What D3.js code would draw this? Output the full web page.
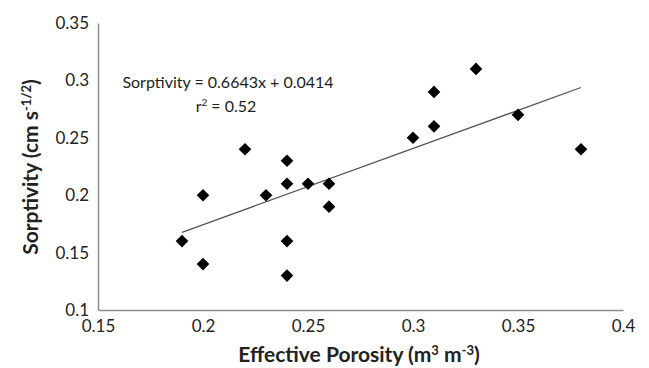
<!DOCTYPE html>
<html>
<head>
<meta charset="utf-8">
<script src="https://cdn.jsdelivr.net/npm/d3@7"></script>
<style>
  body { margin: 0; background: #fff; }
  text { font-family: Lato, "Open Sans", sans-serif; }
</style>
</head>
<body>
<svg id="chart" width="649" height="368"></svg>
<script>
// data
const porosity   = [0.19, 0.20, 0.20, 0.22, 0.23, 0.24, 0.24, 0.24, 0.24, 0.25, 0.26, 0.26, 0.30, 0.31, 0.31, 0.33, 0.35, 0.38];
const sorptivity = [0.16, 0.20, 0.14, 0.24, 0.20, 0.23, 0.21, 0.16, 0.13, 0.21, 0.21, 0.19, 0.25, 0.29, 0.26, 0.31, 0.27, 0.24];
const xTicks = [0.15, 0.2, 0.25, 0.3, 0.35, 0.4];
const yTicks = [0.1, 0.15, 0.2, 0.25, 0.3, 0.35];
const slope = 0.6643, intercept = 0.0414;
const trendX = [0.19, 0.38];

const svg = d3.select('#chart');
const margin = { top: 23, right: 26, bottom: 58, left: 98 };
const width = 649 - margin.left - margin.right;
const height = 368 - margin.top - margin.bottom;

const g = svg.append('g')
    .attr('transform', `translate(${margin.left},${margin.top})`);

const x = d3.scaleLinear().domain([0.15, 0.4]).range([0, width]);
const y = d3.scaleLinear().domain([0.1, 0.35]).range([height, 0]);

// axes
const xAxis = d3.axisBottom(x).tickValues(xTicks).tickSize(0).tickPadding(10)
    .tickFormat(d => d3.format('')(+d.toFixed(2)));
const yAxis = d3.axisLeft(y).tickValues(yTicks).tickSize(0).tickPadding(9)
    .tickFormat(d => d3.format('')(+d.toFixed(2)));

g.append('g')
    .attr('transform', `translate(0,${height})`)
    .call(xAxis)
    .call(s => s.select('.domain').attr('stroke', '#8c8c8c').attr('stroke-width', 1.5))
    .selectAll('text').attr('font-size', 17).attr('fill', '#222');

g.append('g')
    .call(yAxis)
    .call(s => s.select('.domain').attr('stroke', '#8c8c8c').attr('stroke-width', 1.5))
    .selectAll('text').attr('font-size', 17).attr('fill', '#222');

// trend line
const line = d3.line().x(d => x(d)).y(d => y(slope * d + intercept));
g.append('path')
    .datum(trendX)
    .attr('d', line)
    .attr('fill', 'none')
    .attr('stroke', '#555')
    .attr('stroke-width', 1.2);

// points
const diamond = d3.symbol().type(d3.symbolSquare).size(80);
g.selectAll('.pt')
    .data(d3.range(porosity.length))
    .join('path')
    .attr('class', 'pt')
    .attr('d', diamond)
    .attr('transform', i => `translate(${x(porosity[i])},${y(sorptivity[i])}) rotate(45)`)
    .attr('fill', '#000');

// equation
g.append('text')
    .attr('x', 228 - margin.left).attr('y', 88 - margin.top)
    .attr('text-anchor', 'middle')
    .attr('font-size', 16).attr('fill', '#222')
    .text('Sorptivity = 0.6643x + 0.0414');
const r2 = g.append('text')
    .attr('x', 226 - margin.left).attr('y', 112 - margin.top)
    .attr('text-anchor', 'middle')
    .attr('font-size', 16).attr('fill', '#222');
r2.append('tspan').text('r');
r2.append('tspan').attr('dy', -6).attr('font-size', 10).text('2');
r2.append('tspan').attr('dy', 6).text(' = 0.52');

// axis titles
const xt = svg.append('text')
    .attr('x', 359).attr('y', 362)
    .attr('text-anchor', 'middle')
    .attr('font-size', 21).attr('font-weight', 'bold').attr('fill', '#222');
xt.append('tspan').text('Effective Porosity (m');
xt.append('tspan').attr('dy', -7).attr('font-size', 13).text('3');
xt.append('tspan').attr('dy', 7).text(' m');
xt.append('tspan').attr('dy', -7).attr('font-size', 13).text('-3');
xt.append('tspan').attr('dy', 7).text(')');

const yt = svg.append('text')
    .attr('transform', `translate(38,167) rotate(-90)`)
    .attr('text-anchor', 'middle')
    .attr('font-size', 21).attr('font-weight', 'bold').attr('fill', '#222');
yt.append('tspan').text('Sorptivity (cm s');
yt.append('tspan').attr('dy', -7).attr('font-size', 13).text('-1/2');
yt.append('tspan').attr('dy', 7).text(')');
</script>
</body>
</html>
